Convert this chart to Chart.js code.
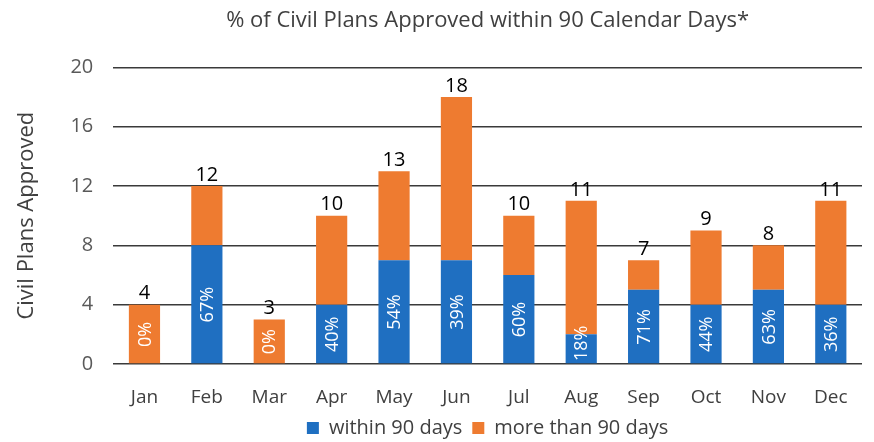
<!DOCTYPE html>
<html>
<head>
<meta charset="utf-8">
<script src="https://cdn.jsdelivr.net/npm/chart.js@4/dist/chart.umd.min.js"></script>
<style>
  html, body { margin: 0; padding: 0; background: #fff; }
  #wrap { width: 874px; height: 442px; }
</style>
</head>
<body>
<div id="wrap"><canvas id="civilChart" width="874" height="442"></canvas></div>
<script>
const months = ['Jan', 'Feb', 'Mar', 'Apr', 'May', 'Jun', 'Jul', 'Aug', 'Sep', 'Oct', 'Nov', 'Dec'];
const within90 = [0, 8, 0, 4, 7, 7, 6, 2, 5, 4, 5, 4];
const over90 = [4, 4, 3, 6, 6, 11, 4, 9, 2, 5, 3, 7];
const totals = [4, 12, 3, 10, 13, 18, 10, 11, 7, 9, 8, 11];
const pctLabels = ['0%', '67%', '0%', '40%', '54%', '39%', '60%', '18%', '71%', '44%', '63%', '36%'];
const yTicks = [0, 4, 8, 12, 16, 20];

const FONT = '"Open Sans", Lato, sans-serif';

// totals above bars + rotated % labels inside
const barLabels = {
  id: 'barLabels',
  afterDatasetsDraw(chart) {
    const ctx = chart.ctx;
    const y = chart.scales.y;
    const top = chart.getDatasetMeta(1);
    ctx.save();
    top.data.forEach((bar, i) => {
      // total
      ctx.fillStyle = '#000';
      ctx.font = '20px ' + FONT;
      ctx.textAlign = 'center';
      ctx.textBaseline = 'bottom';
      ctx.fillText(String(totals[i]), bar.x, y.getPixelForValue(totals[i]) - 1);

      // percent, rotated (reads bottom to top)
      ctx.font = '18px ' + FONT;
      const txt = pctLabels[i];
      const half = ctx.measureText(txt).width / 2;
      const base = y.getPixelForValue(0);
      let cy = within90[i] > 0 ? y.getPixelForValue(within90[i] / 2) : y.getPixelForValue(totals[i] / 2);
      if (cy + half > base - 3) cy = base - 3 - half;
      ctx.save();
      ctx.translate(bar.x, cy);
      ctx.rotate(-Math.PI / 2);
      ctx.fillStyle = '#fff';
      ctx.textAlign = 'center';
      ctx.textBaseline = 'middle';
      ctx.fillText(txt, 0, 1);
      ctx.restore();
    });
    ctx.restore();
  }
};

new Chart(document.getElementById('civilChart').getContext('2d'), {
  type: 'bar',
  data: {
    labels: months,
    datasets: [
      { label: 'within 90 days', data: within90, backgroundColor: '#1f6fc1' },
      { label: 'more than 90 days', data: over90, backgroundColor: '#ee7b30' }
    ]
  },
  options: {
    responsive: false,
    animation: false,
    categoryPercentage: 1,
    barPercentage: 0.5,
    layout: { padding: { left: 14, right: 12, top: 2, bottom: -6 } },
    plugins: {
      title: {
        display: true,
        fullSize: false,
        text: '% of Civil Plans Approved within 90 Calendar Days*',
        color: '#404040',
        font: { family: FONT, size: 22, weight: 'normal' },
        padding: { top: 6, bottom: 33 }
      },
      legend: {
        position: 'bottom',
        fullSize: false,
        labels: {
          color: '#404040',
          font: { family: FONT, size: 20 },
          boxWidth: 12,
          boxHeight: 12,
          padding: 10
        }
      },
      tooltip: { enabled: false }
    },
    scales: {
      x: {
        stacked: true,
        grid: { display: false },
        border: { display: false },
        ticks: { color: '#404040', font: { family: FONT, size: 19 }, padding: 14 },
        afterFit: axis => { axis.height = 44; }
      },
      y: {
        stacked: true,
        min: 0,
        max: 20,
        afterBuildTicks: axis => { axis.ticks = yTicks.map(v => ({ value: v })); },
        grid: { color: '#3a3a3a', lineWidth: 1.5, drawTicks: false },
        border: { display: false },
        ticks: { color: '#595959', font: { family: FONT, size: 20 }, padding: 20 },
        title: {
          display: true,
          text: 'Civil Plans Approved',
          color: '#404040',
          font: { family: FONT, size: 22 },
          padding: { top: 0, bottom: 10 }
        }
      }
    }
  },
  plugins: [barLabels]
});
</script>
</body>
</html>
